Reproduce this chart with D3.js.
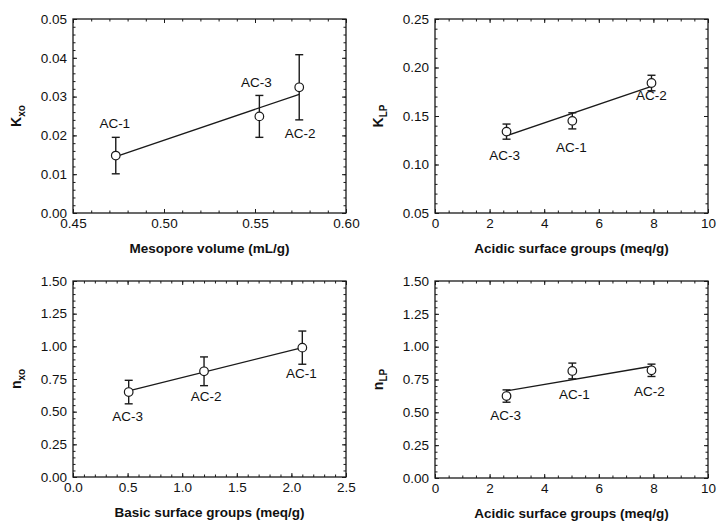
<!DOCTYPE html>
<html>
<head>
<meta charset="utf-8">
<script src="https://cdn.jsdelivr.net/npm/d3@7"></script>
<style>
  body { margin: 0; background: #fff; }
  svg text { font-family: "Liberation Sans", Arial, sans-serif; fill: #111; }
</style>
</head>
<body>
<div id="vis"></div>
<script>
// sample names, same order in every panel array
const xoSamples = ['AC-1', 'AC-3', 'AC-2']
const mesoporeVolume = [0.4735, 0.5524, 0.5743]
const kxo = [0.0148, 0.0249, 0.0324]
const kxoErr = [0.0047, 0.0054, 0.0084]
const kxoFit = [[0.4735, 0.0145], [0.5743, 0.0306]]

const lpSamples = ['AC-3', 'AC-1', 'AC-2']
const acidicGroups = [2.62, 5.03, 7.93]
const klp = [0.1339, 0.145, 0.184]
const klpErr = [0.0078, 0.0083, 0.008]
const klpFit = [[2.62, 0.1297], [7.93, 0.1805]]

const basicSamples = ['AC-3', 'AC-2', 'AC-1']
const basicGroups = [0.51, 1.2, 2.1]
const nxo = [0.65, 0.809, 0.99]
const nxoErr = [0.09, 0.11, 0.127]
const nxoFit = [[0.51, 0.66], [2.1, 0.99]]

const nlp = [0.624, 0.815, 0.82]
const nlpErr = [0.047, 0.06, 0.047]
const nlpFit = [[2.62, 0.663], [7.93, 0.851]]

// tick labels
const xTicksMeso = [0.45, 0.50, 0.55, 0.60]
const yTicksKxo = [0.00, 0.01, 0.02, 0.03, 0.04, 0.05]
const xTicksAcid = [0, 2, 4, 6, 8, 10]
const yTicksKlp = [0.05, 0.10, 0.15, 0.20, 0.25]
const xTicksBasic = [0.0, 0.5, 1.0, 1.5, 2.0, 2.5]
const yTicksN = [0.00, 0.25, 0.50, 0.75, 1.00, 1.25, 1.50]

const W = 718, H = 524
const svg = d3.select('#vis').append('svg')
    .attr('width', W)
    .attr('height', H)

const ink = '#1a1a1a'

// panel layout + where to put the sample labels (pixel offset from the point)
const panels = [
    {
        left: 73, top: 19, width: 273, height: 194,
        xDomain: [0.45, 0.60], yDomain: [0, 0.05],
        xTicks: xTicksMeso, yTicks: yTicksKxo, xFmt: '.2f', yFmt: '.2f',
        xMinor: 15, yMinor: 25,
        xTitle: 'Mesopore volume (mL/g)', yMain: 'K', ySub: 'xo',
        names: xoSamples, xs: mesoporeVolume, ys: kxo, errs: kxoErr, fit: kxoFit,
        labelOffsets: [[-1, -28], [-3, -29], [1, 51]]
    },
    {
        left: 435, top: 19, width: 273, height: 194,
        xDomain: [0, 10], yDomain: [0.05, 0.25],
        xTicks: xTicksAcid, yTicks: yTicksKlp, xFmt: 'd', yFmt: '.2f',
        xMinor: 25, yMinor: 20,
        xTitle: 'Acidic surface groups (meq/g)', yMain: 'K', ySub: 'LP',
        names: lpSamples, xs: acidicGroups, ys: klp, errs: klpErr, fit: klpFit,
        labelOffsets: [[-2, 28], [-1, 31], [0, 17]]
    },
    {
        left: 73, top: 281, width: 273, height: 196,
        xDomain: [0, 2.5], yDomain: [0, 1.5],
        xTicks: xTicksBasic, yTicks: yTicksN, xFmt: '.1f', yFmt: '.2f',
        xMinor: 25, yMinor: 30,
        xTitle: 'Basic surface groups (meq/g)', yMain: 'n', ySub: 'xo',
        names: basicSamples, xs: basicGroups, ys: nxo, errs: nxoErr, fit: nxoFit,
        labelOffsets: [[-1, 29], [2, 30], [-1, 30]]
    },
    {
        left: 435, top: 281, width: 273, height: 197,
        xDomain: [0, 10], yDomain: [0, 1.5],
        xTicks: xTicksAcid, yTicks: yTicksN, xFmt: 'd', yFmt: '.2f',
        xMinor: 25, yMinor: 30,
        xTitle: 'Acidic surface groups (meq/g)', yMain: 'n', ySub: 'LP',
        names: lpSamples, xs: acidicGroups, ys: nlp, errs: nlpErr, fit: nlpFit,
        labelOffsets: [[-1, 24], [2, 28], [-2, 26]]
    }
]

panels.forEach(drawPanel)

function styleAxis(g, showText) {
    g.select('.domain').remove()
    g.selectAll('.tick line').attr('stroke', ink).attr('stroke-width', 1)
    if (!showText) g.selectAll('text').remove()
    else g.selectAll('text')
        .style('font-size', '13.5px')
        .style('font-family', '"Liberation Sans", Arial, sans-serif')
        .attr('fill', ink)
}

function drawPanel(p) {
    let g = svg.append('g')
        .attr('transform', `translate(${p.left},${p.top})`)

    let x = d3.scaleLinear().domain(p.xDomain).range([0, p.width])
    let y = d3.scaleLinear().domain(p.yDomain).range([p.height, 0])

    // minor ticks on all four sides, pointing in
    const minorLen = 2.5, majorLen = 4
    g.append('g').attr('transform', `translate(0,${p.height})`)
        .call(d3.axisBottom(x).ticks(p.xMinor).tickSize(-minorLen).tickFormat(''))
        .call(a => styleAxis(a, false))
    g.append('g')
        .call(d3.axisTop(x).ticks(p.xMinor).tickSize(-minorLen).tickFormat(''))
        .call(a => styleAxis(a, false))
    g.append('g')
        .call(d3.axisLeft(y).ticks(p.yMinor).tickSize(-minorLen).tickFormat(''))
        .call(a => styleAxis(a, false))
    g.append('g').attr('transform', `translate(${p.width},0)`)
        .call(d3.axisRight(y).ticks(p.yMinor).tickSize(-minorLen).tickFormat(''))
        .call(a => styleAxis(a, false))

    // major ticks + labels
    g.append('g').attr('transform', `translate(0,${p.height})`)
        .call(d3.axisBottom(x).tickValues(p.xTicks).tickFormat(d3.format(p.xFmt))
            .tickSizeInner(-majorLen).tickSizeOuter(0).tickPadding(5))
        .call(a => styleAxis(a, true))
    g.append('g')
        .call(d3.axisTop(x).tickValues(p.xTicks).tickSize(-majorLen).tickFormat(''))
        .call(a => styleAxis(a, false))
    g.append('g')
        .call(d3.axisLeft(y).tickValues(p.yTicks).tickFormat(d3.format(p.yFmt))
            .tickSizeInner(-majorLen).tickSizeOuter(0).tickPadding(6))
        .call(a => styleAxis(a, true))
    g.append('g').attr('transform', `translate(${p.width},0)`)
        .call(d3.axisRight(y).tickValues(p.yTicks).tickSize(-majorLen).tickFormat(''))
        .call(a => styleAxis(a, false))

    // frame
    g.append('rect')
        .attr('width', p.width)
        .attr('height', p.height)
        .attr('fill', 'none')
        .attr('stroke', ink)
        .attr('stroke-width', 1.3)

    // fitted line
    g.append('path')
        .datum(p.fit)
        .attr('fill', 'none')
        .attr('stroke', ink)
        .attr('stroke-width', 1.3)
        .attr('d', d3.line().x(d => x(d[0])).y(d => y(d[1])))

    let pts = p.names.map((n, i) => ({ name: n, x: p.xs[i], y: p.ys[i], e: p.errs[i], off: p.labelOffsets[i] }))

    // error bars
    let cap = 4
    let eb = g.selectAll('.err').data(pts).enter().append('g')
        .attr('stroke', ink)
        .attr('stroke-width', 1.4)
    eb.append('line')
        .attr('x1', d => x(d.x)).attr('x2', d => x(d.x))
        .attr('y1', d => y(d.y + d.e)).attr('y2', d => y(d.y - d.e))
    eb.append('line')
        .attr('x1', d => x(d.x) - cap).attr('x2', d => x(d.x) + cap)
        .attr('y1', d => y(d.y + d.e)).attr('y2', d => y(d.y + d.e))
    eb.append('line')
        .attr('x1', d => x(d.x) - cap).attr('x2', d => x(d.x) + cap)
        .attr('y1', d => y(d.y - d.e)).attr('y2', d => y(d.y - d.e))

    g.selectAll('.pt').data(pts).enter().append('circle')
        .attr('cx', d => x(d.x))
        .attr('cy', d => y(d.y))
        .attr('r', 4.3)
        .attr('fill', '#fff')
        .attr('stroke', ink)
        .attr('stroke-width', 1.2)

    g.selectAll('.lbl').data(pts).enter().append('text')
        .attr('x', d => x(d.x) + d.off[0])
        .attr('y', d => y(d.y) + d.off[1])
        .attr('text-anchor', 'middle')
        .style('font-size', '13.5px')
        .text(d => d.name)

    // axis titles
    g.append('text')
        .attr('x', p.width / 2)
        .attr('y', p.height + 40)
        .attr('text-anchor', 'middle')
        .style('font-size', '13.5px')
        .style('font-weight', 'bold')
        .text(p.xTitle)

    let yt = g.append('text')
        .attr('transform', `translate(-52,${p.height / 2}) rotate(-90)`)
        .attr('text-anchor', 'middle')
        .style('font-size', '14px')
        .style('font-weight', 'bold')
    yt.append('tspan').text(p.yMain)
    yt.append('tspan')
        .attr('dy', 4)
        .style('font-size', '10px')
        .text(p.ySub)
}
</script>
</body>
</html>
